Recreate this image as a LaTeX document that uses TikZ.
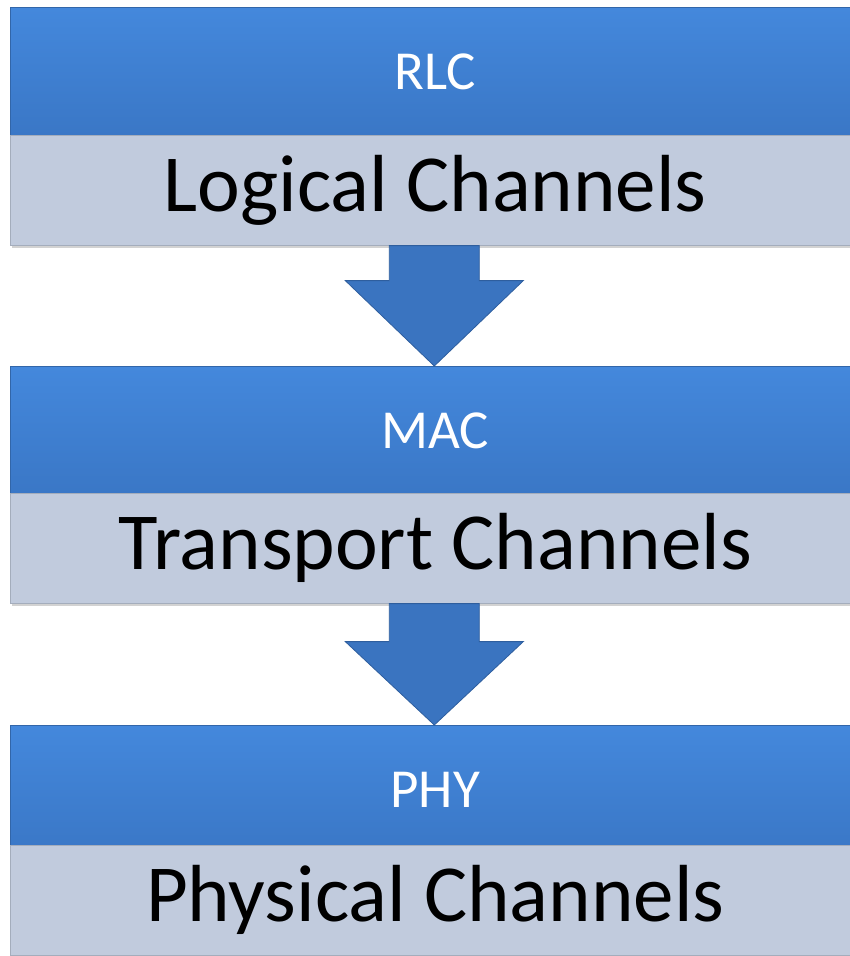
\documentclass[tikz,border=0pt]{standalone}
\usepackage{fontspec}
\setmainfont{Carlito}
\usetikzlibrary{calc,shadows}
\definecolor{bluetop}{HTML}{4488DC}
\definecolor{bluebot}{HTML}{3A77C6}
\definecolor{barblue}{HTML}{3F7FD3}
\definecolor{bargray}{HTML}{C1CBDD}
\definecolor{arrowblue}{HTML}{3A74C0}
\definecolor{arrowedge}{HTML}{2E5E9E}
\begin{document}
\begin{tikzpicture}[x=1pt,y=-1pt,
  header/.style={rectangle, anchor=north west, minimum width=840pt, minimum height=128pt,
    top color=bluetop, bottom color=bluebot, draw=barblue!80!black, line width=0.6pt,
    inner sep=0pt,
    drop shadow={shadow xshift=1.5pt, shadow yshift=-3pt, opacity=0.35}},
  body/.style={rectangle, anchor=north west, minimum width=840pt, minimum height=110pt,
    fill=bargray, draw=bargray!85!black, line width=0.6pt,
    inner sep=0pt,
    drop shadow={shadow xshift=1.5pt, shadow yshift=-3pt, opacity=0.35}},
  headtext/.style={text=white, font=\fontsize{55}{55}\selectfont},
  bodytext/.style={text=black, font=\fontsize{81}{81}\selectfont},
  blockarrow/.style={fill=arrowblue, draw=arrowedge, line width=0.8pt, line join=miter}
]
\useasboundingbox (0,0) rectangle (850,956);
\fill[white] (0,0) rectangle (850,956);

% block 1
\node[header] (h1) at (10,7) {};
\node[body] (g1) at (10,135) {};
% block 2
\node[header] (h2) at (10,366) {};
\node[body] (g2) at (10,493) {};
% block 3
\node[header] (h3) at (10,725) {};
\node[body] (g3) at (10,845) {};

% labels
\node[headtext] (t1) at ($(h1.center)+(5,1)$) {RLC};
\node[bodytext] (l1) at ($(g1.center)+(5,0)$) {Logical Channels};
\node[headtext] (t2) at ($(h2.center)+(5,1)$) {MAC};
\node[bodytext] (l2) at ($(g2.center)+(5,0)$) {Transport Channels};
\node[headtext] (t3) at ($(h3.center)+(5,1)$) {PHY};
\node[bodytext] (l3) at ($(g3.center)+(5,0)$) {Physical Channels};

% arrows
\coordinate (a1) at ($(g1.south)+(4,0)$);
\coordinate (a2) at ($(g2.south)+(4,0)$);
\draw[blockarrow] ($(a1)+(-45,0)$) -- ($(a1)+(-45,35)$) -- ($(a1)+(-89,35)$)
   -- (a1 |- h2.north) -- ($(a1)+(89,35)$) -- ($(a1)+(45,35)$) -- ($(a1)+(45,0)$) -- cycle;
\draw[blockarrow] ($(a2)+(-45,0)$) -- ($(a2)+(-45,38)$) -- ($(a2)+(-89,38)$)
   -- (a2 |- h3.north) -- ($(a2)+(89,38)$) -- ($(a2)+(45,38)$) -- ($(a2)+(45,0)$) -- cycle;
\end{tikzpicture}
\end{document}
